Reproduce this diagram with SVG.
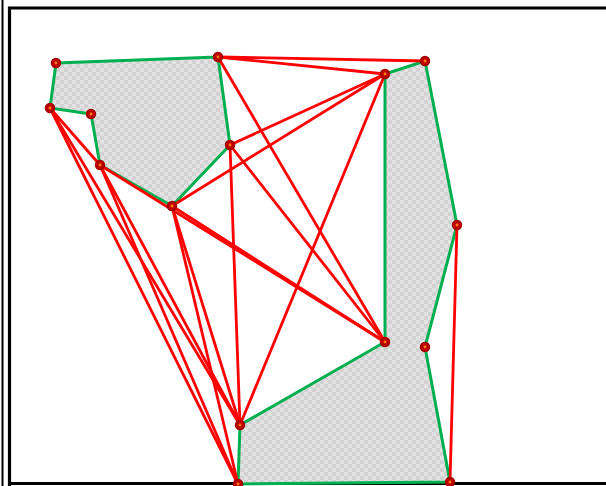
<svg xmlns="http://www.w3.org/2000/svg" width="606" height="486" viewBox="0 0 606 486">
<defs>
<pattern id="chk" width="8" height="8" patternUnits="userSpaceOnUse">
<rect width="8" height="8" fill="#d2d2d2"/>
<rect width="4" height="4" fill="#e2e2e2"/>
<rect x="4" y="4" width="4" height="4" fill="#e2e2e2"/>
</pattern>
<style>
.area{fill:url(#chk);stroke:none}
.g{stroke:#00b050;stroke-width:3;fill:none;stroke-linejoin:round}
.r{stroke:#ff0000;stroke-width:2.8;fill:none;stroke-linecap:round}
.pt{fill:#c00000;stroke:#a00000;stroke-width:1.5}
.pc{fill:#ff8000}
.frame{fill:none;stroke:#000;stroke-width:3.2}
</style>
</defs>
<rect width="606" height="486" fill="#fff"/>
<line x1="2.5" y1="0" x2="2.5" y2="486" stroke="#000" stroke-width="2"/>
<path class="frame" d="M9.5 486 V8 H610 M9.5 483.5 H610"/>
<g id="areas">
<polygon class="area" points="56,63 218,57 230,145 172,206 100,165 91,114 50,108"/>
<polygon class="area" points="385,74 425,61 457,225 425,347 450,482 238,484 240,425 385,342"/>
</g>
<g id="boundaries">
<polygon class="g" points="56,63 218,57 230,145 172,206 100,165 91,114 50,108"/>
<polygon class="g" points="385,74 425,61 457,225 425,347 450,482 238,484 240,425 385,342"/>
</g>
<g id="connectors">
<line class="r" x1="218" y1="57" x2="425" y2="61"/>
<line class="r" x1="218" y1="57" x2="385" y2="74"/>
<line class="r" x1="218" y1="57" x2="385" y2="342"/>
<line class="r" x1="230" y1="145" x2="385" y2="74"/>
<line class="r" x1="172" y1="206" x2="385" y2="74"/>
<line class="r" x1="230" y1="145" x2="385" y2="342"/>
<line class="r" x1="385" y1="74" x2="240" y2="425"/>
<line class="r" x1="230" y1="145" x2="240" y2="425"/>
<line class="r" x1="172" y1="206" x2="385" y2="342"/>
<line class="r" x1="100" y1="165" x2="385" y2="342"/>
<line class="r" x1="457" y1="225" x2="450" y2="482"/>
<line class="r" x1="50" y1="108" x2="100" y2="165"/>
<line class="r" x1="50" y1="108" x2="238" y2="484"/>
<line class="r" x1="50" y1="108" x2="240" y2="425"/>
<line class="r" x1="100" y1="165" x2="238" y2="484"/>
<line class="r" x1="100" y1="165" x2="240" y2="425"/>
<line class="r" x1="172" y1="206" x2="238" y2="484"/>
<line class="r" x1="172" y1="206" x2="240" y2="425"/>
</g>
<g id="nA"><circle class="pt" cx="56" cy="63" r="4.5"/><circle class="pc" cx="56" cy="63" r="1.4"/></g>
<g id="nB"><circle class="pt" cx="218" cy="57" r="4.5"/><circle class="pc" cx="218" cy="57" r="1.4"/></g>
<g id="nC"><circle class="pt" cx="50" cy="108" r="4.5"/><circle class="pc" cx="50" cy="108" r="1.4"/></g>
<g id="nD"><circle class="pt" cx="91" cy="114" r="4.5"/><circle class="pc" cx="91" cy="114" r="1.4"/></g>
<g id="nE"><circle class="pt" cx="100" cy="165" r="4.5"/><circle class="pc" cx="100" cy="165" r="1.4"/></g>
<g id="nF"><circle class="pt" cx="172" cy="206" r="4.5"/><circle class="pc" cx="172" cy="206" r="1.4"/></g>
<g id="nG"><circle class="pt" cx="230" cy="145" r="4.5"/><circle class="pc" cx="230" cy="145" r="1.4"/></g>
<g id="nH"><circle class="pt" cx="385" cy="74" r="4.5"/><circle class="pc" cx="385" cy="74" r="1.4"/></g>
<g id="nI"><circle class="pt" cx="425" cy="61" r="4.5"/><circle class="pc" cx="425" cy="61" r="1.4"/></g>
<g id="nJ"><circle class="pt" cx="457" cy="225" r="4.5"/><circle class="pc" cx="457" cy="225" r="1.4"/></g>
<g id="nK"><circle class="pt" cx="385" cy="342" r="4.5"/><circle class="pc" cx="385" cy="342" r="1.4"/></g>
<g id="nL"><circle class="pt" cx="425" cy="347" r="4.5"/><circle class="pc" cx="425" cy="347" r="1.4"/></g>
<g id="nM"><circle class="pt" cx="240" cy="425" r="4.5"/><circle class="pc" cx="240" cy="425" r="1.4"/></g>
<g id="nN"><circle class="pt" cx="238" cy="484" r="4.5"/><circle class="pc" cx="238" cy="484" r="1.4"/></g>
<g id="nO"><circle class="pt" cx="450" cy="482" r="4.5"/><circle class="pc" cx="450" cy="482" r="1.4"/></g>
</svg>
